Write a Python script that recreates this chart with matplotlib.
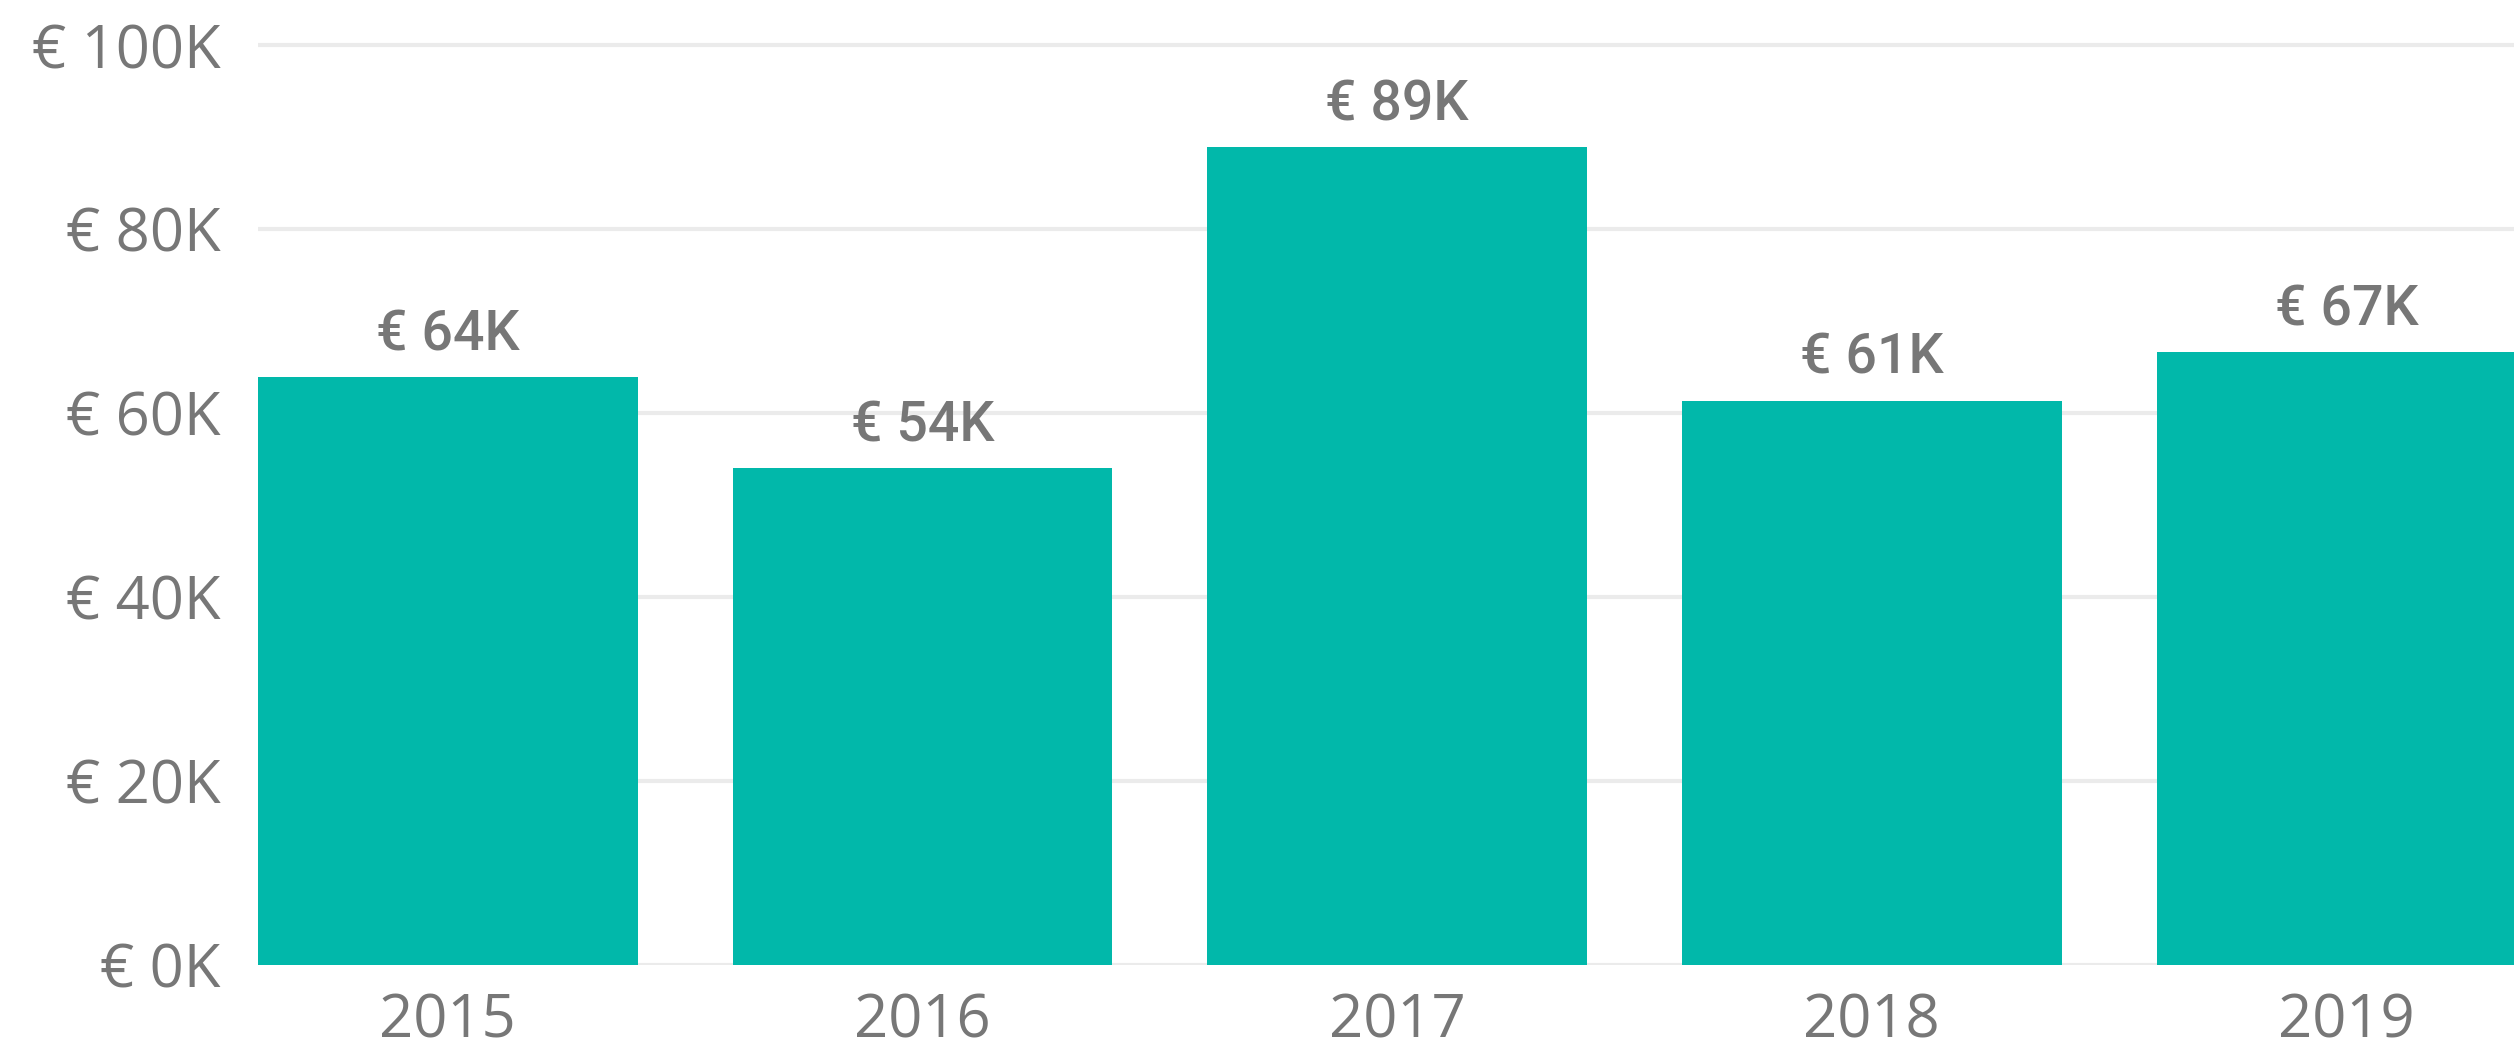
import matplotlib
matplotlib.use("Agg")
import matplotlib.pyplot as plt
from matplotlib.ticker import FuncFormatter

years = ["2015", "2016", "2017", "2018", "2019"]
values_k = [63.9, 54.0, 88.9, 61.3, 66.6]
y_ticks = [0, 20, 40, 60, 80, 100]

bar_color = "#01B8AA"
text_color = "#777777"
grid_color = "#EBEBEB"

W, H = 2514, 1055
dpi = 100
fig = plt.figure(figsize=(W / dpi, H / dpi), dpi=dpi)
left_px, bottom_px = 258, 965
ax = fig.add_axes([left_px / W, (H - bottom_px) / H, (W - left_px) / W, bottom_px / H])

x = list(range(len(years)))
ax.bar(x, values_k, width=0.8, color=bar_color, zorder=3)

ax.set_xlim(-0.4, 4.353)
ax.set_ylim(0, 100 * 965 / 920)
ax.set_yticks(y_ticks)
ax.yaxis.set_major_formatter(FuncFormatter(lambda v, p: f"€ {int(v)}K"))
ax.set_xticks(x)
ax.set_xticklabels(years)

for s in ax.spines.values():
    s.set_visible(False)
ax.grid(axis="y", color=grid_color, linewidth=3, zorder=0)
ax.grid(axis="x", visible=False)
ax.tick_params(axis="both", length=0, colors=text_color, labelsize=43)
ax.tick_params(axis="y", pad=27)
ax.tick_params(axis="x", pad=19)
for lbl in ax.get_xticklabels() + ax.get_yticklabels():
    lbl.set_fontfamily("Open Sans")
    lbl.set_color(text_color)

for xi, v in zip(x, values_k):
    ax.annotate(f"€ {round(v)}K", (xi, v), xytext=(0, 19.5), textcoords="offset points",
                ha="center", va="baseline", fontsize=40, color=text_color,
                fontfamily="Roboto", fontweight="medium")

fig.savefig("out.png", dpi=dpi)
